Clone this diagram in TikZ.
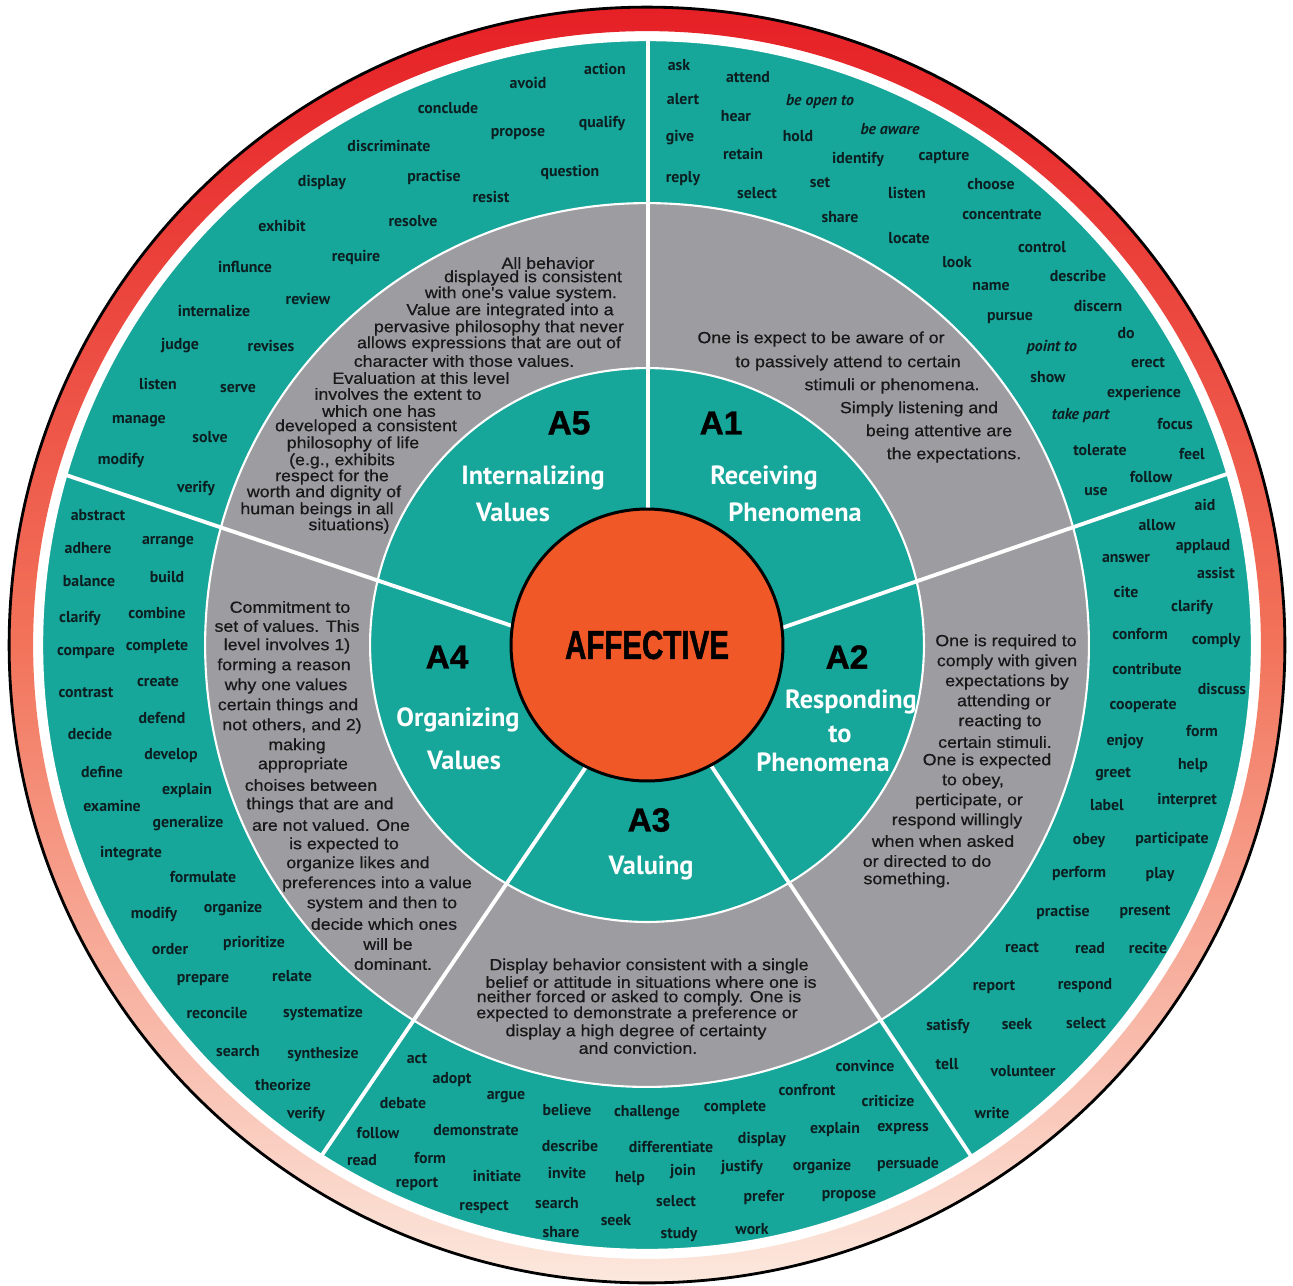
\documentclass[tikz,border=0pt]{standalone}
\usepackage{fontspec}
\setmainfont{PT Sans}
\newfontfamily\descfont[FakeStretch=1.1,FakeBold=0.6]{Liberation Sans}
\newfontfamily\heavyfont[FakeBold=1.2]{Liberation Sans}
\newfontfamily\widefont[FakeStretch=0.73,FakeBold=1.2]{Liberation Sans}

\definecolor{rimred}{RGB}{230,32,38}
\definecolor{rimmid}{RGB}{242,115,90}
\definecolor{rimpeach}{RGB}{252,232,222}
\definecolor{ringteal}{RGB}{22,166,154}
\definecolor{ringgray}{RGB}{157,156,160}
\definecolor{coreorange}{RGB}{240,88,40}
\definecolor{inkword}{RGB}{12,30,32}
\definecolor{inkdesc}{RGB}{24,24,24}

\begin{document}
\begin{tikzpicture}[x=0.02cm,y=-0.02cm,
  word/.style={font=\fontsize{9}{9.5}\selectfont\bfseries, text=inkword, inner sep=0pt},
  desc/.style={font=\descfont\fontsize{9.2}{9.6}\selectfont, text=inkdesc, inner sep=0pt},
  title/.style={font=\fontsize{15}{16}\selectfont\bfseries, text=white, inner sep=0pt},
  tag/.style={font=\heavyfont\bfseries\fontsize{19}{19}\selectfont, inner sep=0pt},
  divider/.style={white, line width=2.2pt},
  rim/.style={draw=white, line width=1.2pt}]
\useasboundingbox (0,0) rectangle (1293,1285);
\fill[white] (0,0) rectangle (1293,1285);
\coordinate (c) at (647,645);

% rings
\shade[top color=rimred, bottom color=rimpeach, middle color=rimmid, even odd rule]
  (c) circle[radius=12.76cm] (c) circle[radius=12.28cm];
\draw[line width=1.6pt] (c) circle[radius=12.76cm];
\fill[ringteal, rim] (c) circle[radius=12.10cm];
\fill[ringgray, rim] (c) circle[radius=8.84cm];
\fill[ringteal, rim] (c) circle[radius=5.54cm];

% dividers
\coordinate (d51s) at (648,530); \coordinate (d51e) at (648,40);
\coordinate (d12s) at (770,632); \coordinate (d12e) at (1227,474);
\coordinate (d23s) at (706,758); \coordinate (d23e) at (971,1156);
\coordinate (d34s) at (590,761); \coordinate (d34e) at (322,1155);
\coordinate (d45s) at (533,633); \coordinate (d45e) at (66,475);
\foreach \a/\b in {d51s/d51e,d12s/d12e,d23s/d23e,d34s/d34e,d45s/d45e}
  \draw[divider] (\a) -- (\b);

\filldraw[fill=coreorange, draw=black, line width=1.7pt] (c) circle[radius=2.72cm];
\node[font=\widefont\bfseries\fontsize{23}{23}\selectfont, inner sep=0pt] (core) at (c) {AFFECTIVE};

% level tags and titles
\node[tag] (l5) at (569,423) {A5};
\node[tag] (l1) at (721,423) {A1};
\node[tag] (l4) at (447,657) {A4};
\node[tag] (l2) at (847,657) {A2};
\node[tag] (l3) at (649,820) {A3};

\node[title] (t5a) at (533,478) {Internalizing};
\node[title] (t5b) at (513,512) {Values};
\node[title] (t1a) at (764,478) {Receiving};
\node[title] (t1b) at (795,512) {Phenomena};
\node[title] (t4a) at (458,720) {Organizing};
\node[title] (t4b) at (464,760) {Values};
\node[title] (t2a) at (851,702) {Responding};
\node[title] (t2b) at (840,734) {to};
\node[title] (t2c) at (823,762) {Phenomena};
\node[title] (t3a) at (651,868) {Valuing};

% descriptions
\foreach \x/\y/\txt [count=\i] in {548/263/All behavior, 533/278/displayed is consistent,
  521/294/with one's value system., 510/311/Value are integrated into a,
  499/328/pervasive philosophy that never, 489/344/allows expressions that are out of,
  464/361/character with those values., 421/378/Evaluation at this level,
  398/394/involves the extent to, 379/411/which one has, 366/427/developed a consistent,
  353/444/philosophy of life, 342/461/{(e.g., exhibits}, 332/477/respect for the,
  324/493/worth and dignity of, 317/510/human beings in all, 349/526/situations)}
  \node[desc] (g5\i) at (\x,\y) {\txt};
\foreach \x/\y/\txt [count=\i] in {821/339/One is expect to be aware of or,
  848/363/to passively attend to certain, 892/386/stimuli or phenomena.,
  919/409/Simply listening and, 939/432/being attentive are, 954/455/the expectations.}
  \node[desc] (g1\i) at (\x,\y) {\txt};
\foreach \x/\y/\txt [count=\i] in {1006/642/One is required to, 1007/662/comply with given,
  1007/682/expectations by, 1004/702/attending or, 1000/722/reacting to,
  995/742/certain stimuli., 987/761/One is expected, 973/781/{to obey,},
  969/801/{perticipate, or}, 957/821/respond willingly, 943/841/when when asked,
  927/861/or directed to do, 907/880/something.}
  \node[desc] (g2\i) at (\x,\y) {\txt};
\foreach \x/\y/\txt [count=\i] in {649/966/Display behavior consistent with a single,
  651/982/belief or attitude in situations where one is,
  639/998/neither forced or asked to comply. One is,
  637/1014/expected to demonstrate a preference or,
  636/1032/display a high degree of certainty, 638/1048/and conviction.}
  \node[desc] (g3\i) at (\x,\y) {\txt};
\foreach \x/\y/\txt [count=\i] in {290/607/Commitment to, 287/626/set of values. This,
  287/646/level involves 1), 284/666/forming a reason, 286/686/why one values,
  288/706/certain things and, 292/726/{not others, and 2)}, 297/746/making,
  303/765/appropriate, 311/785/choises between, 320/805/things that are and,
  331/825/are not valued. One, 344/845/is expected to, 358/864/organize likes and,
  377/884/preferences into a value, 382/904/system and then to,
  384/924/decide which ones, 388/944/will be, 393/964/dominant.}
  \node[desc] (g4\i) at (\x,\y) {\txt};

% verbs
\foreach \x/\y/\txt [count=\i] in {605/69/action, 528/83/avoid, 448/108/conclude,
  602/123/qualify, 518/134/propose, 389/146/discriminate, 570/172/question,
  322/182/display, 434/177/practise, 491/197/resist, 282/226/exhibit, 413/221/resolve,
  356/257/require, 245/267/influnce, 214/311/internalize, 308/299/review, 180/346/judge,
  271/346/revises, 158/384/listen, 238/389/serve, 139/421/manage, 210/437/solve,
  121/460/modify, 196/488/verify}
  \node[word] (w5\i) at (\x,\y) {\txt};
\foreach \x/\y/\txt [count=\i] in {679/65/ask, 748/77/attend, 683/99/alert,
  820/102/\textit{be open to}, 736/116/hear, 680/138/give, 798/136/hold,
  890/129/\textit{be aware}, 743/154/retain, 858/159/identify, 944/157/capture,
  683/179/reply, 757/193/select, 820/183/set, 907/193/listen, 991/184/choose,
  840/217/share, 1002/215/concentrate, 909/238/locate, 1042/247/control, 957/262/look,
  1078/276/describe, 991/287/name, 1098/306/discern, 1010/318/pursue, 1126/333/do,
  1052/347/\textit{point to}, 1148/363/erect, 1048/377/show, 1144/393/experience,
  1081/416/\textit{take part}, 1175/424/focus, 1100/450/tolerate, 1192/454/feel,
  1151/477/follow, 1096/492/use}
  \node[word] (w1\i) at (\x,\y) {\txt};
\foreach \x/\y/\txt [count=\i] in {1205/505/aid, 1157/525/allow, 1203/547/applaud,
  1126/559/answer, 1216/573/assist, 1126/592/cite, 1192/607/clarify, 1140/634/conform,
  1216/641/comply, 1147/669/contribute, 1222/689/discuss, 1143/706/cooperate,
  1202/731/form, 1125/742/enjoy, 1193/766/help, 1113/774/greet, 1107/805/label,
  1187/800/interpret, 1089/841/obey, 1172/839/participate, 1079/873/perform,
  1160/875/play, 1063/912/practise, 1145/912/present, 1022/948/react, 1090/948/read,
  1148/948/recite, 994/987/report, 1085/986/respond, 948/1026/satisfy, 1017/1024/seek,
  1086/1023/select, 947/1064/tell, 1023/1071/volunteer, 992/1113/write}
  \node[word] (w2\i) at (\x,\y) {\txt};
\foreach \x/\y/\txt [count=\i] in {417/1059/act, 452/1080/adopt, 403/1103/debate,
  506/1097/argue, 567/1110/believe, 647/1113/challenge, 735/1108/complete,
  807/1090/confront, 865/1066/convince, 888/1101/criticize, 378/1133/follow,
  476/1130/demonstrate, 570/1146/describe, 671/1147/differentiate, 762/1139/display,
  835/1129/explain, 903/1129/express, 362/1160/read, 430/1158/form, 497/1176/initiate,
  567/1173/invite, 630/1179/help, 683/1171/join, 742/1167/justify, 822/1167/organize,
  908/1165/persuade, 417/1184/report, 484/1207/respect, 557/1203/search,
  676/1201/select, 764/1197/prefer, 849/1196/propose, 616/1220/seek, 561/1232/share,
  679/1235/study, 752/1229/work}
  \node[word] (w3\i) at (\x,\y) {\txt};
\foreach \x/\y/\txt [count=\i] in {98/515/abstract, 88/548/adhere, 168/542/arrange,
  89/581/balance, 167/577/build, 80/618/clarify, 157/613/combine, 86/653/compare,
  157/647/complete, 86/693/contrast, 158/682/create, 162/718/defend, 90/734/decide,
  171/756/develop, 102/772/define, 187/790/explain, 112/806/examine,
  188/824/generalize, 131/854/integrate, 203/877/formulate, 154/914/modify,
  233/909/organize, 170/949/order, 254/943/prioritize, 203/980/prepare,
  292/976/relate, 217/1013/reconcile, 323/1013/systematize, 238/1051/search,
  323/1054/synthesize, 283/1085/theorize, 306/1114/verify}
  \node[word] (w4\i) at (\x,\y) {\txt};
\end{tikzpicture}
\end{document}
